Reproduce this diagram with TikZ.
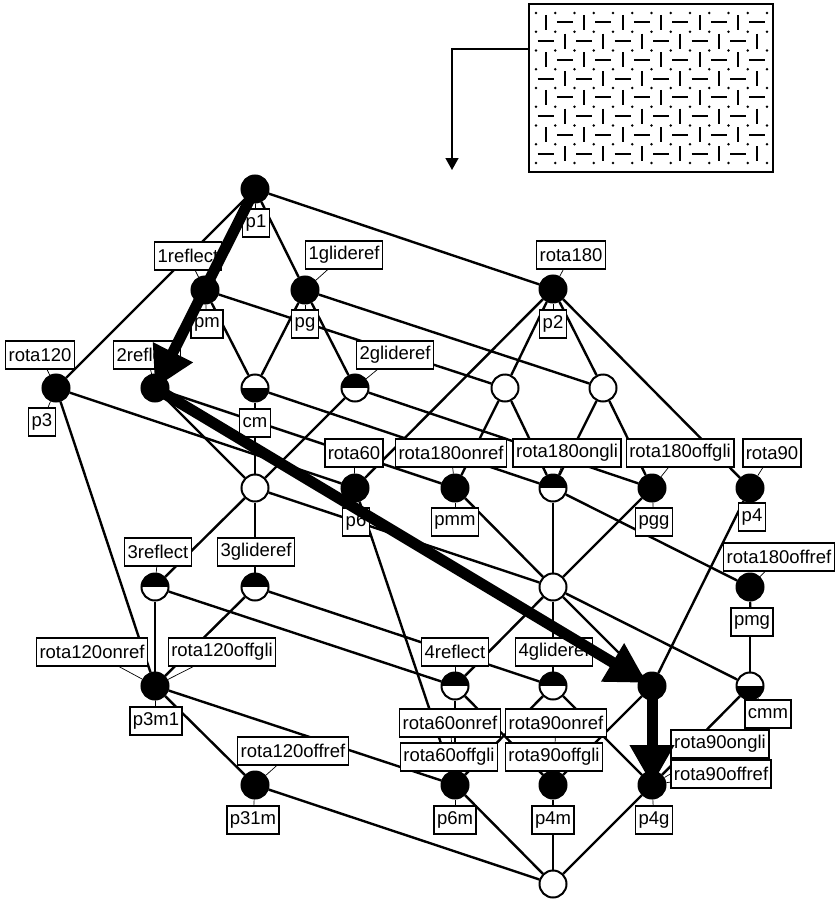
\documentclass[tikz,border=0pt]{standalone}
\usepackage{fontspec}
\setmainfont{Liberation Sans}
\usetikzlibrary{arrows.meta,backgrounds}

\begin{document}
\begin{tikzpicture}[x=1pt, y=-1pt,
        full/.style={circle, draw, line width=2pt, fill=black, minimum size=27pt, inner sep=0pt},
        empty/.style={full, fill=white},
        halfup/.style={empty, path picture={\fill[black] (path picture bounding box.west) rectangle (path picture bounding box.north east);}},
        halfdown/.style={empty, path picture={\fill[black] (path picture bounding box.west) rectangle (path picture bounding box.south east);}},
        tag/.style={draw, line width=1.5pt, fill=white, font=\fontsize{18.5}{20}\selectfont, inner xsep=3pt, inner ysep=0pt, minimum height=28pt},
        link/.style={line width=2.4pt},
        leader/.style={line width=0.7pt},
        bigarrow/.style={line width=11pt, -{Triangle[length=40pt, width=42pt]}}
    ]
    \useasboundingbox (0,0) rectangle (837,899);

    % Pattern swatch
    \node[draw, line width=1.6pt, minimum width=244pt, minimum height=168pt, inner sep=0pt] (swatch) at (651,88) {};
    \foreach \c in {0,...,12}
        \foreach \r in {0,...,8}
            \fill (536+19.25*\c, 13+18.75*\r) circle (1.3pt);
    \foreach \c in {0,...,11}
        \foreach \r in {0,...,7} {
            \pgfmathtruncatemacro\odd{mod(\c+\r,2)}
            \ifnum\odd=0
                \draw[line width=2pt] (545.6+19.25*\c, 14.9+18.75*\r) -- ++(0,15);
            \else
                \draw[line width=2pt] (537.6+19.25*\c, 22.4+18.75*\r) -- ++(16,0);
            \fi
        }
    \coordinate (drop) at (452,170);
    \draw[line width=1.5pt, -{Triangle[length=12pt, width=13pt]}] ([yshift=39pt]swatch.west) -| (drop);

    % Labels
    \node[tag] (tp1) at (256,223) {p1};
    \node[tag] (t1refl) at (188,256) {1reflect};
    \node[tag] (tpm) at (207,324) {pm};
    \node[tag] (t1gli) at (344,255) {1glideref};
    \node[tag] (tpg) at (305,324) {pg};
    \node[tag] (trot180) at (571,255) {rota180};
    \node[tag] (tp2) at (553,324) {p2};
    \node[tag] (trot120) at (40,355) {rota120};
    \node[tag] (tp3) at (42,422) {p3};
    \node[tag] (t2refl) at (147,355) {2reflect};
    \node[tag] (tcm) at (255,423) {cm};
    \node[tag] (t2gli) at (395,355) {2glideref};
    \node[tag] (trot60) at (354,453) {rota60};
    \node[tag] (tp6) at (356,522) {p6};
    \node[tag] (tonref) at (451,453) {rota180onref};
    \node[tag] (tpmm) at (455,522) {pmm};
    \node[tag] (tongli) at (567,453) {rota180ongli};
    \node[tag] (toffgli) at (680,453) {rota180offgli};
    \node[tag] (tpgg) at (654,522) {pgg};
    \node[tag] (trot90) at (772,453) {rota90};
    \node[tag] (tp4) at (752,517) {p4};
    \node[tag] (t3refl) at (158,552) {3reflect};
    \node[tag] (t3gli) at (256,552) {3glideref};
    \node[tag] (toffref) at (779,557) {rota180offref};
    \node[tag] (tpmg) at (752,622) {pmg};
    \node[tag] (t120onref) at (92,652) {rota120onref};
    \node[tag] (t120offgli) at (222,652) {rota120offgli};
    \node[tag] (tp3m1) at (156,721) {p3m1};
    \node[tag] (t4refl) at (455,652) {4reflect};
    \node[tag] (t4gli) at (554,652) {4glideref};
    \node[tag] (tcmm) at (768,714) {cmm};
    \node[tag] (t120offref) at (293,751) {rota120offref};
    \node[tag] (tp31m) at (253,820) {p31m};
    \node[tag] (t60onref) at (450,723) {rota60onref};
    \node[tag] (t60offgli) at (449,757) {rota60offgli};
    \node[tag] (tp6m) at (455,820) {p6m};
    \node[tag] (t90onref) at (556,723) {rota90onref};
    \node[tag] (t90offgli) at (554,757) {rota90offgli};
    \node[tag] (tp4m) at (553,820) {p4m};
    \node[tag] (t90ongli) at (720,744) {rota90ongli};
    \node[tag] (t90offref) at (721,774) {rota90offref};
    \node[tag] (tp4g) at (654,820) {p4g};

    % Lattice nodes
    \node[full] (p1) at (255,189) {};
    \node[full] (pm) at (205,290) {};
    \node[full] (pg) at (305,290) {};
    \node[full] (p2) at (553,289) {};
    \node[full] (p3) at (56,388) {};
    \node[full] (refl2) at (155,388) {};
    \node[halfdown] (cm) at (255,388) {};
    \node[halfup] (gli2) at (355,388) {};
    \node[empty] (pmrot) at (505,388) {};
    \node[empty] (pgrot) at (603,388) {};
    \node[empty] (cmrot) at (255,488) {};
    \node[full] (p6) at (355,488) {};
    \node[full] (pmm) at (455,488) {};
    \node[halfup] (ongli) at (553,488) {};
    \node[full] (pgg) at (652,488) {};
    \node[full] (p4) at (750,488) {};
    \node[halfup] (refl3) at (155,587) {};
    \node[halfup] (gli3) at (255,587) {};
    \node[empty] (meet) at (553,587) {};
    \node[full] (pmg) at (750,587) {};
    \node[full] (p3m1) at (155,686) {};
    \node[halfup] (refl4) at (455,686) {};
    \node[halfup] (gli4) at (553,686) {};
    \node[full] (sq) at (652,686) {};
    \node[halfdown] (cmm) at (750,686) {};
    \node[full] (p31m) at (255,785) {};
    \node[full] (p6m) at (455,785) {};
    \node[full] (p4m) at (553,785) {};
    \node[full] (p4g) at (652,785) {};
    \node[empty] (bot) at (553,884) {};

    \begin{scope}[on background layer]
        % Edges
        \foreach \a/\b in {p1/pm, p1/pg, p1/p2, p1/p3, pm/refl2, pm/cm, pm/pmrot,
                pg/cm, pg/gli2, pg/pgrot, p2/pmrot, p2/pgrot, p2/p6, p2/p4,
                p3/p6, p3/p3m1, refl2/cmrot, refl2/pmm, cm/cmrot, cm/ongli,
                gli2/cmrot, gli2/pgg, pmrot/pmm, pmrot/ongli, pgrot/ongli, pgrot/pgg,
                cmrot/refl3, cmrot/gli3, cmrot/meet, p6/p6m, pmm/meet, ongli/meet,
                ongli/pmg, pgg/meet, p4/sq, refl3/p3m1, refl3/refl4, gli3/p3m1,
                gli3/gli4, meet/refl4, meet/gli4, meet/sq, meet/cmm, pmg/cmm,
                p3m1/p31m, p3m1/p6m, refl4/p6m, refl4/p4m, gli4/p6m, gli4/p4g,
                sq/p4m, sq/p4g, cmm/p4g, p31m/bot, p6m/bot, p4m/bot, p4g/bot}
            \draw[link] (\a) -- (\b);
        % Leaders
        \foreach \t/\n in {tp1/p1, t1refl/pm, tpm/pm, t1gli/pg, tpg/pg, trot180/p2, tp2/p2,
                trot120/p3, tp3/p3, t2refl/refl2, tcm/cm, t2gli/gli2, trot60/p6, tp6/p6,
                tonref/pmm, tpmm/pmm, tongli/ongli, toffgli/pgg, tpgg/pgg, trot90/p4, tp4/p4,
                t3refl/refl3, t3gli/gli3, toffref/pmg, tpmg/pmg, t120onref/p3m1,
                t120offgli/p3m1, tp3m1/p3m1, t4refl/refl4, t4gli/gli4, tcmm/cmm,
                t120offref/p31m, tp31m/p31m, t60onref/p6m, t60offgli/p6m, tp6m/p6m,
                t90onref/p4m, t90offgli/p4m, tp4m/p4m, t90ongli/p4g, t90offref/p4g, tp4g/p4g}
            \draw[leader] (\t) -- (\n);
    \end{scope}

    % Path through the lattice
    \draw[bigarrow] (p1.center) -- (refl2.center);
    \draw[bigarrow, shorten >=6pt] (refl2.center) -- (sq.center);
    \draw[bigarrow] (sq.center) -- (p4g.center);
\end{tikzpicture}
\end{document}
